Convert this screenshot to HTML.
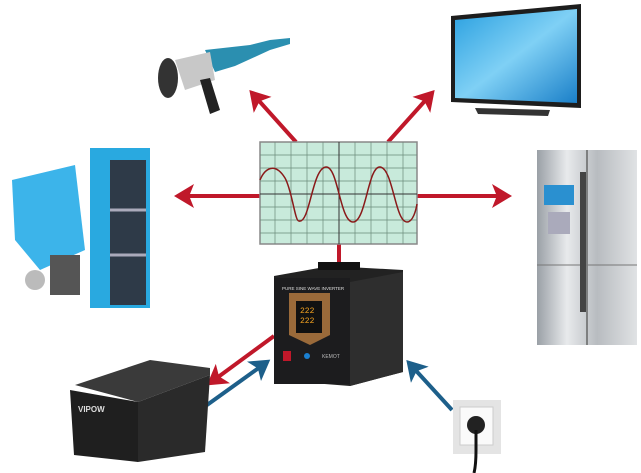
<!DOCTYPE html>
<html><head><style>html,body{margin:0;padding:0;background:#fff;}svg{display:block;}</style></head>
<body>
<svg width="641" height="473" viewBox="0 0 641 473" xmlns="http://www.w3.org/2000/svg">
<defs>
<linearGradient id="scr" x1="0" y1="0" x2="1" y2="1"><stop offset="0" stop-color="#2aa0e0"/><stop offset="0.5" stop-color="#7fd0f5"/><stop offset="1" stop-color="#1a7fc8"/></linearGradient>
<linearGradient id="fr" x1="0" y1="0" x2="1" y2="0"><stop offset="0" stop-color="#9aa0a6"/><stop offset="0.3" stop-color="#e8eaec"/><stop offset="0.6" stop-color="#b8bcc0"/><stop offset="1" stop-color="#e0e2e4"/></linearGradient>
<marker id="ar" markerWidth="6" markerHeight="6" refX="4" refY="3" orient="auto" markerUnits="strokeWidth"><path d="M0,0 L5,3 L0,6 L1.2,3 z" fill="#c0182a"/></marker>
<marker id="ab" markerWidth="6" markerHeight="6" refX="4" refY="3" orient="auto" markerUnits="strokeWidth"><path d="M0,0 L5,3 L0,6 L1.2,3 z" fill="#1d5f8a"/></marker>
</defs>
<g stroke-width="4" fill="none">
<line x1="260" y1="196" x2="178" y2="196" stroke="#c0182a" marker-end="url(#ar)"/>
<line x1="417" y1="196" x2="508" y2="196" stroke="#c0182a" marker-end="url(#ar)"/>
<line x1="296" y1="142" x2="252" y2="93" stroke="#c0182a" marker-end="url(#ar)"/>
<line x1="388" y1="142" x2="432" y2="93" stroke="#c0182a" marker-end="url(#ar)"/>
<line x1="339" y1="244" x2="339" y2="268" stroke="#c0182a"/>
<line x1="274" y1="336" x2="210" y2="383" stroke="#c0182a" marker-end="url(#ar)"/>
<line x1="207" y1="405" x2="267" y2="362" stroke="#1d5f8a" marker-end="url(#ab)"/>
<line x1="452" y1="410" x2="409" y2="363" stroke="#1d5f8a" marker-end="url(#ab)"/>
</g>
<rect x="260" y="142" width="157" height="102" fill="#c8eadb" stroke="#888" stroke-width="1.5"/>
<g stroke="#6a8a7a" stroke-width="0.7">
<line x1="260" y1="155" x2="417" y2="155"/><line x1="260" y1="168" x2="417" y2="168"/><line x1="260" y1="181" x2="417" y2="181"/><line x1="260" y1="207" x2="417" y2="207"/><line x1="260" y1="220" x2="417" y2="220"/><line x1="260" y1="233" x2="417" y2="233"/>
<line x1="275" y1="142" x2="275" y2="244"/><line x1="291" y1="142" x2="291" y2="244"/><line x1="307" y1="142" x2="307" y2="244"/><line x1="323" y1="142" x2="323" y2="244"/><line x1="355" y1="142" x2="355" y2="244"/><line x1="371" y1="142" x2="371" y2="244"/><line x1="387" y1="142" x2="387" y2="244"/><line x1="403" y1="142" x2="403" y2="244"/>
</g>
<line x1="260" y1="194" x2="417" y2="194" stroke="#333" stroke-width="1"/>
<line x1="339" y1="142" x2="339" y2="244" stroke="#333" stroke-width="1"/>
<path d="M260,180 C265,168 275,162 285,178 C292,190 295,222 299,221 C310,224 312,168 326,167 C338,166 340,222 353,222 C366,222 368,166 380,167 C393,168 395,222 407,222 C413,222 416,210 417,204" fill="none" stroke="#8a1a1a" stroke-width="1.5"/>
<polygon points="274,276 330,266 403,270 403,372 350,386 274,380" fill="#222"/>
<polygon points="350,282 403,272 403,372 350,386" fill="#2e2e2e"/>
<rect x="274" y="278" width="76" height="106" fill="#1c1c1e"/>
<rect x="318" y="262" width="42" height="8" fill="#111"/>
<text x="282" y="290" font-family="Liberation Sans,sans-serif" font-size="4.5" fill="#ddd">PURE SINE WAVE INVERTER</text>
<path d="M289,293 L330,293 L330,335 L310,345 L289,335 Z" fill="#9a6a3a"/>
<rect x="296" y="301" width="26" height="32" fill="#111"/>
<text x="300" y="313" font-family="Liberation Mono,monospace" font-size="8" fill="#f0a020">222</text>
<text x="300" y="323" font-family="Liberation Mono,monospace" font-size="8" fill="#f0a020">222</text>
<rect x="283" y="351" width="8" height="10" fill="#c0182a"/>
<circle cx="307" cy="356" r="3" fill="#1a7fd0"/>
<text x="322" y="358" font-family="Liberation Sans,sans-serif" font-size="5" fill="#bbb">KEMOT</text>
<path d="M205,50 L250,45 L270,40 L290,38 L290,44 L270,50 L235,66 L215,72 Z" fill="#2b8fb0"/>
<ellipse cx="168" cy="78" rx="10" ry="20" fill="#333"/>
<path d="M175,60 L210,52 L215,80 L185,90 Z" fill="#c8c8c8"/>
<path d="M200,80 L210,78 L220,110 L210,114 Z" fill="#222"/>
<!-- TV -->
<polygon points="451,16 581,4 581,108 451,102" fill="#1d1d1d"/>
<polygon points="455,20 577,9 577,103 455,98" fill="url(#scr)"/>
<polygon points="475,108 550,110 548,116 478,114" fill="#333"/>
<!-- fridge -->
<rect x="537" y="150" width="100" height="195" fill="url(#fr)"/>
<line x1="587" y1="150" x2="587" y2="345" stroke="#666" stroke-width="1.5"/>
<line x1="537" y1="265" x2="637" y2="265" stroke="#777"/>
<rect x="580" y="172" width="6" height="140" fill="#444"/>
<rect x="544" y="185" width="30" height="20" fill="#2a90d0"/>
<rect x="548" y="212" width="22" height="22" fill="#aab"/>
<!-- boiler -->
<rect x="90" y="148" width="60" height="160" fill="#29a9e0"/>
<rect x="110" y="160" width="36" height="145" fill="#2e3a48"/>
<line x1="110" y1="210" x2="146" y2="210" stroke="#aab" stroke-width="3"/>
<line x1="110" y1="255" x2="146" y2="255" stroke="#aab" stroke-width="3"/>
<polygon points="12,180 75,165 85,250 40,270 15,240" fill="#3cb4ea"/>
<rect x="50" y="255" width="30" height="40" fill="#555"/>
<circle cx="35" cy="280" r="10" fill="#bbb"/>
<!-- battery -->
<polygon points="75,385 150,360 210,368 210,375 138,402" fill="#3a3a3a"/>
<polygon points="70,390 138,402 138,462 74,455" fill="#1f1f1f"/>
<polygon points="138,402 210,375 205,452 138,462" fill="#2a2a2a"/>
<text x="78" y="412" font-family="Liberation Sans,sans-serif" font-size="8" font-weight="bold" fill="#ddd">VIPOW</text>
<!-- socket -->
<rect x="453" y="400" width="48" height="54" fill="#e4e4e4"/>
<rect x="460" y="407" width="33" height="38" fill="#fafafa" stroke="#ccc"/>
<circle cx="476" cy="425" r="9" fill="#222"/>
<path d="M476,430 L476,450 Q476,465 474,473" stroke="#111" stroke-width="3" fill="none"/>
</svg>
</body></html>
